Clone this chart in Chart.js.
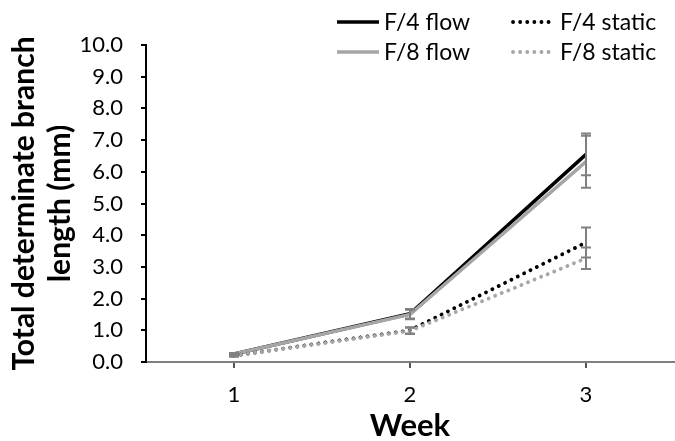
<!DOCTYPE html>
<html>
<head>
<meta charset="utf-8">
<script src="https://cdn.jsdelivr.net/npm/chart.js@4"></script>
<style>
  html, body { margin: 0; padding: 0; background: #fff; }
  #wrap { width: 675px; height: 441px; }
</style>
</head>
<body>
<div id="wrap"><canvas id="branchChart"></canvas></div>
<script>
// weeks on the x axis
const weeks = ['1', '2', '3'];

// mean branch length (mm) per week
const f4Flow = [0.25, 1.52, 6.55];
const f8Flow = [0.25, 1.50, 6.32];
const f4Static = [0.20, 1.00, 3.77];
const f8Static = [0.20, 0.98, 3.27];

// standard error (mm)
const f4FlowErr = [0.03, 0.15, 0.66];
const f8FlowErr = [0.03, 0.15, 0.82];
const f4StaticErr = [0.03, 0.10, 0.47];
const f8StaticErr = [0.03, 0.10, 0.34];

const FONT = 'Lato, "Open Sans", sans-serif';

// vertical error bars with caps, drawn in data space
const errorBars = {
    id: 'errorBars',
    afterDatasetsDraw(chart) {
        const ctx = chart.ctx;
        const y = chart.scales.y;
        ctx.save();
        ctx.strokeStyle = '#808080';
        ctx.lineWidth = 2;
        chart.data.datasets.forEach((ds, i) => {
            const meta = chart.getDatasetMeta(i);
            meta.data.forEach((pt, j) => {
                const v = ds.data[j], e = ds.err[j];
                const top = y.getPixelForValue(v + e);
                const bot = y.getPixelForValue(v - e);
                ctx.beginPath();
                ctx.moveTo(pt.x, top); ctx.lineTo(pt.x, bot);
                ctx.moveTo(pt.x - 5, top); ctx.lineTo(pt.x + 5, top);
                ctx.moveTo(pt.x - 5, bot); ctx.lineTo(pt.x + 5, bot);
                ctx.stroke();
            });
        });
        ctx.restore();
    }
};

// two-column legend in the top band
const topLegend = {
    id: 'topLegend',
    afterDraw(chart) {
        const ctx = chart.ctx;
        const spots = [[337, 22], [337, 52], [513, 22], [513, 52]];
        ctx.save();
        ctx.font = '23px ' + FONT;
        ctx.textBaseline = 'middle';
        ctx.fillStyle = '#000';
        chart.data.datasets.forEach((ds, i) => {
            const [x, yy] = spots[i];
            ctx.strokeStyle = ds.borderColor;
            ctx.lineWidth = ds.borderWidth;
            ctx.lineCap = ds.borderCapStyle || 'butt';
            ctx.setLineDash(ds.borderDash || []);
            ctx.beginPath();
            ctx.moveTo(x, yy); ctx.lineTo(x + 42, yy);
            ctx.stroke();
            ctx.fillText(ds.label, x + 47, yy + 1);
        });
        ctx.restore();
    }
};

const ctx = document.getElementById('branchChart').getContext('2d');
new Chart(ctx, {
    type: 'line',
    data: {
        labels: weeks,
        datasets: [
            // lower order is painted on top, so the grey lines sit over the black ones
            { label: 'F/4 flow', data: f4Flow, err: f4FlowErr, borderColor: '#000000', borderWidth: 3.5, order: 3 },
            { label: 'F/8 flow', data: f8Flow, err: f8FlowErr, borderColor: '#a6a6a6', borderWidth: 3.5, order: 2 },
            { label: 'F/4 static', data: f4Static, err: f4StaticErr, borderColor: '#000000', borderWidth: 3.8,
              borderDash: [0.1, 7], borderCapStyle: 'round', order: 1 },
            { label: 'F/8 static', data: f8Static, err: f8StaticErr, borderColor: '#a6a6a6', borderWidth: 3.8,
              borderDash: [0.1, 7], borderCapStyle: 'round', order: 0 }
        ]
    },
    options: {
        responsive: true,
        maintainAspectRatio: false,
        animation: false,
        layout: { padding: { top: 45, right: 1, left: 0, bottom: 0 } },
        elements: { point: { radius: 0 }, line: { tension: 0 } },
        plugins: { legend: { display: false }, tooltip: { enabled: false } },
        scales: {
            x: {
                offset: true,
                grid: { offset: false, drawOnChartArea: false, drawTicks: true, tickLength: 6, color: '#555', lineWidth: 2 },
                border: { color: '#7f7f7f', width: 2 },
                ticks: { color: '#000', font: { family: FONT, size: 22 }, padding: 14 },
                title: { display: true, text: 'Week', color: '#000',
                         font: { family: FONT, size: 31, weight: 'bold', lineHeight: 1.0 }, padding: { top: 0, bottom: 0 } },
                afterFit(scale) { scale.height = 79; }
            },
            y: {
                min: 0,
                max: 10,
                ticks: { stepSize: 1, color: '#000', font: { family: FONT, size: 22 }, padding: 18,
                         callback: v => v.toFixed(1) },
                grid: { drawOnChartArea: false, drawTicks: true, tickLength: 5, color: '#000', lineWidth: 2 },
                border: { color: '#000', width: 2 },
                title: { display: true, text: ['Total determinate branch', 'length (mm)'], color: '#000',
                         font: { family: FONT, size: 30, weight: 'bold', lineHeight: 1.2 }, padding: { top: 6, bottom: 0 } },
                afterFit(scale) { scale.width = 146; }
            }
        }
    },
    plugins: [errorBars, topLegend]
});
</script>
</body>
</html>
